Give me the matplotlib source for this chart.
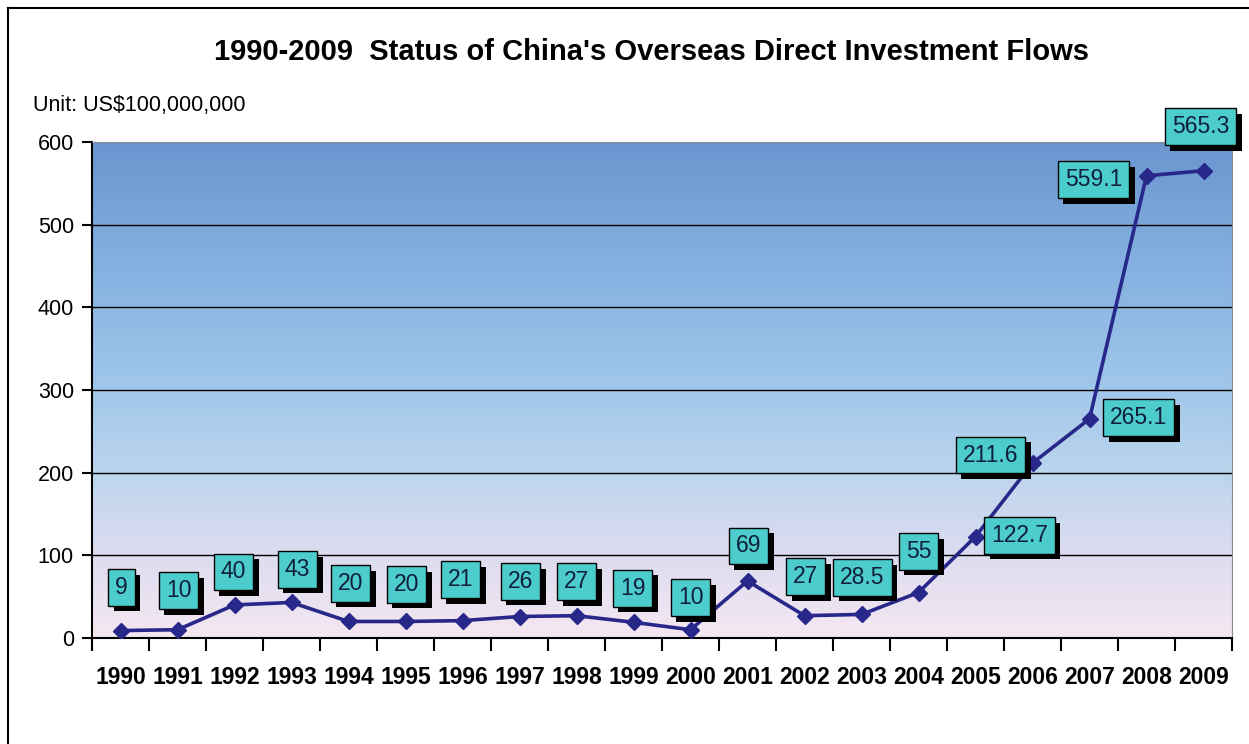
import numpy as np
import matplotlib
matplotlib.use("Agg")
import matplotlib.pyplot as plt
import matplotlib.patheffects as pe
from matplotlib.colors import LinearSegmentedColormap
from matplotlib.lines import Line2D

plt.rcParams['font.family'] = ['Liberation Sans', 'DejaVu Sans']

years = ['1990', '1991', '1992', '1993', '1994', '1995', '1996', '1997', '1998', '1999',
         '2000', '2001', '2002', '2003', '2004', '2005', '2006', '2007', '2008', '2009']
flows = [9, 10, 40, 43, 20, 20, 21, 26, 27, 19,
         10, 69, 27, 28.5, 55, 122.7, 211.6, 265.1, 559.1, 565.3]
value_labels = ['9', '10', '40', '43', '20', '20', '21', '26', '27', '19',
                '10', '69', '27', '28.5', '55', '122.7', '211.6', '265.1', '559.1', '565.3']

# where each value box sits relative to its point (pixels)
label_offsets = [(1, 43), (1, 39), (-1, 33), (6, 33), (2, 38), (1, 37), (-2, 41), (1, 35),
                 (0, 34), (-1, 34), (0, 32), (1, 35), (1, 39), (1, 37), (0, 41),
                 (44, 1), (-42, 8), (49, 1), (-53, -4), (-3, 44)]

W, H = 1249, 744
fig = plt.figure(figsize=(W / 100, H / 100), dpi=100)

# outer chart frame (left and top edges only)
fig.add_artist(Line2D([8 / W, 8 / W], [0, 1 - 8 / H], transform=fig.transFigure, color='black', lw=1.5))
fig.add_artist(Line2D([8 / W, 1], [1 - 8 / H, 1 - 8 / H], transform=fig.transFigure, color='black', lw=1.5))

ax = fig.add_axes([92 / W, (H - 638) / H, 1140 / W, 496 / H])

x = np.arange(len(years))
ax.set_xlim(-0.5, len(years) - 0.5)
ax.set_ylim(0, 600)

# vertical background gradient
bg = LinearSegmentedColormap.from_list('bg', [
    (0.0, '#f5e7f1'), (0.17, '#dcdcf0'), (0.33, '#bcd5ee'),
    (0.5, '#a1c7ea'), (0.75, '#85b0e0'), (1.0, '#6a95cf')])
grad = np.linspace(0, 1, 256).reshape(-1, 1)
ax.imshow(grad, cmap=bg, origin='lower', aspect='auto',
          extent=(-0.5, len(years) - 0.5, 0, 600), zorder=0)

for gy in [100, 200, 300, 400, 500]:
    ax.axhline(gy, color='black', lw=1, zorder=1)

ax.plot(x, flows, color='#28288a', lw=2.6, marker='D', markersize=8,
        markerfacecolor='#28288a', markeredgecolor='#28288a', zorder=3)

for i, (v, txt) in enumerate(zip(flows, value_labels)):
    dx, dy = label_offsets[i]
    t = ax.annotate(txt, (x[i], v), xytext=(dx, dy), textcoords='offset pixels',
                    ha='center', va='center', fontsize=16.5, color='#10203a', zorder=5,
                    bbox=dict(boxstyle='square,pad=0.3', facecolor='#4ccccc',
                              edgecolor='black', lw=1))
    t.get_bbox_patch().set_path_effects([
        pe.SimplePatchShadow(offset=(4, -4), shadow_rgbFace='black', alpha=1.0),
        pe.Normal()])

ax.set_yticks([0, 100, 200, 300, 400, 500, 600])
ax.set_xticks(x)
ax.set_xticks(np.arange(-0.5, len(years), 1), minor=True)
ax.set_xticklabels(years, fontsize=16.5, fontweight='bold')
ax.tick_params(axis='x', which='major', length=0, pad=20)
ax.tick_params(axis='x', which='minor', length=9, width=1.5, direction='out', color='black')
ax.tick_params(axis='y', length=7, width=1.5, labelsize=15.5, pad=6)

ax.spines['left'].set_linewidth(1.5)
ax.spines['bottom'].set_linewidth(1.5)
ax.spines['top'].set_color('#8a8a8a')
ax.spines['right'].set_color('#8a8a8a')

fig.text(651 / W, 1 - 52 / H, "1990-2009  Status of China's Overseas Direct Investment Flows",
         ha='center', va='center', fontsize=21, fontweight='bold')
fig.text(33 / W, 1 - 106 / H, "Unit: US$100,000,000", ha='left', va='center', fontsize=15.5)

fig.savefig('out.png', dpi=100)
